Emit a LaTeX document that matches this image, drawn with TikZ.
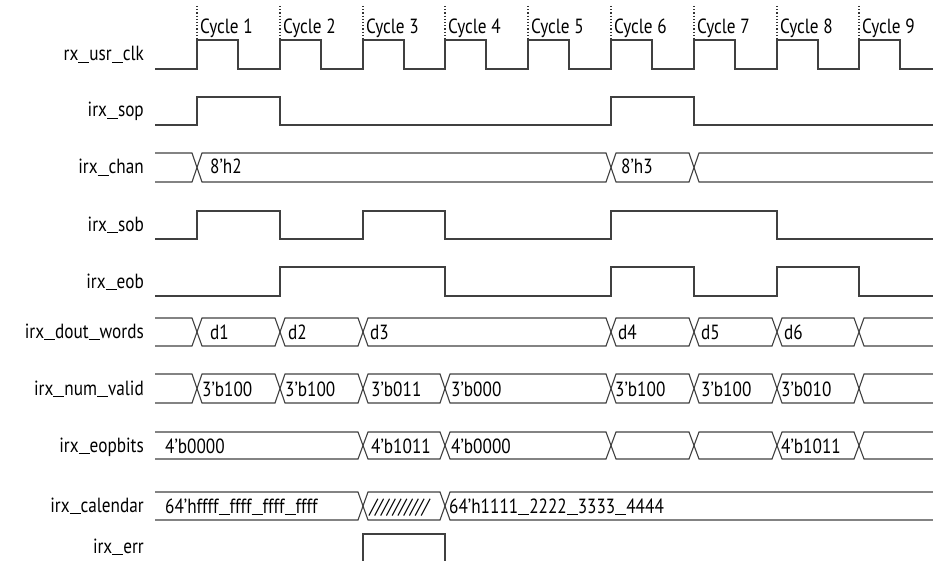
\documentclass[tikz,border=0pt]{standalone}
\usepackage{fontspec}
\setmainfont{PT Sans}[FakeStretch=0.84]
\usetikzlibrary{positioning}
\newcommand\usc{\rule[-2.2pt]{11pt}{0.9pt}}

\begin{document}
\begin{tikzpicture}[x=1pt, y=-1pt,
  sig/.style={draw=black!75, line width=1.1pt},
  tick/.style={draw=black!80, dotted, line width=1.2pt},
  signame/.style={anchor=base east, inner sep=0pt},
  busval/.style={anchor=base west, inner sep=0pt},
  every node/.style={font=\fontsize{20.5}{22}\selectfont}]

\useasboundingbox (0,0) rectangle (933,561);

\node (Cycle1) [busval] at (200,34) {Cycle 1};
\node (Cycle2) [busval] at (283,34) {Cycle 2};
\node (Cycle3) [busval] at (366,34) {Cycle 3};
\node (Cycle4) [busval] at (448,34) {Cycle 4};
\node (Cycle5) [busval] at (531,34) {Cycle 5};
\node (Cycle6) [busval] at (614,34) {Cycle 6};
\node (Cycle7) [busval] at (697,34) {Cycle 7};
\node (Cycle8) [busval] at (780,34) {Cycle 8};
\node (Cycle9) [busval] at (862,34) {Cycle 9};

\draw [tick] (197,6) -- (197,40);
\draw [tick] (280,6) -- (280,40);
\draw [tick] (363,6) -- (363,40);
\draw [tick] (445,6) -- (445,40);
\draw [tick] (528,6) -- (528,40);
\draw [tick] (611,6) -- (611,40);
\draw [tick] (694,6) -- (694,40);
\draw [tick] (777,6) -- (777,40);
\draw [tick] (859,6) -- (859,40);

\node (UsrClk) [signame] at (144,61) {rx\usc usr\usc clk};
\node (Sop) [signame] at (144,117) {irx\usc sop};
\node (Chan) [signame] at (144,174) {irx\usc chan};
\node (Sob) [signame] at (144,231) {irx\usc sob};
\node (Eob) [signame] at (144,288) {irx\usc eob};
\node (DoutWords) [signame] at (144,338) {irx\usc dout\usc words};
\node (NumValid) [signame] at (144,395) {irx\usc num\usc valid};
\node (EopBits) [signame] at (144,452) {irx\usc eopbits};
\node (Calendar) [signame] at (144,512) {irx\usc calendar};
\node (Err) [signame] at (144,553) {irx\usc err};

\draw [sig] (155,69) -| (197,40) -| (238,69) -| (280,40) -| (321,69) -| (363,40)
  -| (404,69) -| (445,40) -| (486,69) -| (528,40) -| (569,69) -| (611,40)
  -| (652,69) -| (694,40) -| (735,69) -| (777,40) -| (818,69) -| (859,40)
  -| (900,69) -- (933,69);

\draw [sig] (155,125) -| (197,97) -| (280,125) -| (611,97) -| (694,125) -- (933,125);

\draw [sig] (155,153) -- (192,153) -- (202,182) -- (606,182) -- (616,153) -- (689,153) -- (699,182) -- (933,182);
\draw [sig] (155,182) -- (192,182) -- (202,153) -- (606,153) -- (616,182) -- (689,182) -- (699,153) -- (933,153);
\node (ChanA) [busval] at (210,174) {8’h2};
\node (ChanB) [busval] at (621,174) {8’h3};

\draw [sig] (155,239) -| (197,211) -| (280,239) -| (363,211) -| (445,239) -| (611,211) -| (777,239) -- (933,239);

\draw [sig] (155,296) -| (280,267) -| (445,296) -| (611,267) -| (694,296) -| (777,267) -| (859,296) -- (933,296);

\draw [sig] (155,318) -- (192,318) -- (202,346) -- (275,346) -- (285,318) -- (358,318) -- (368,346) -- (606,346)
  -- (616,318) -- (689,318) -- (699,346) -- (772,346) -- (782,318) -- (854,318) -- (864,346) -- (933,346);
\draw [sig] (155,346) -- (192,346) -- (202,318) -- (275,318) -- (285,346) -- (358,346) -- (368,318) -- (606,318)
  -- (616,346) -- (689,346) -- (699,318) -- (772,318) -- (782,346) -- (854,346) -- (864,318) -- (933,318);
\node (WordA) [busval] at (210,339) {d1};
\node (WordB) [busval] at (288,339) {d2};
\node (WordC) [busval] at (370,339) {d3};
\node (WordD) [busval] at (618,339) {d4};
\node (WordE) [busval] at (701,339) {d5};
\node (WordF) [busval] at (784,339) {d6};

\draw [sig] (155,374) -- (192,374) -- (202,403) -- (275,403) -- (285,374) -- (358,374) -- (368,403) -- (440,403) -- (450,374)
  -- (606,374) -- (616,403) -- (689,403) -- (699,374) -- (772,374) -- (782,403) -- (854,403) -- (864,374) -- (933,374);
\draw [sig] (155,403) -- (192,403) -- (202,374) -- (275,374) -- (285,403) -- (358,403) -- (368,374) -- (440,374) -- (450,403)
  -- (606,403) -- (616,374) -- (689,374) -- (699,403) -- (772,403) -- (782,374) -- (854,374) -- (864,403) -- (933,403);
\node (ValidA) [busval] at (202,396) {3’b100};
\node (ValidB) [busval] at (285,396) {3’b100};
\node (ValidC) [busval] at (371,396) {3’b011};
\node (ValidD) [busval] at (451,396) {3’b000};
\node (ValidE) [busval] at (615,396) {3’b100};
\node (ValidF) [busval] at (701,396) {3’b100};
\node (ValidG) [busval] at (781,396) {3’b010};

\draw [sig] (155,432) -- (358,432) -- (368,459) -- (440,459) -- (450,432) -- (606,432) -- (616,459) -- (689,459)
  -- (699,432) -- (772,432) -- (782,459) -- (854,459) -- (864,432) -- (933,432);
\draw [sig] (155,459) -- (358,459) -- (368,432) -- (440,432) -- (450,459) -- (606,459) -- (616,432) -- (689,432)
  -- (699,459) -- (772,459) -- (782,432) -- (854,432) -- (864,459) -- (933,459);
\node (EopA) [busval] at (165,453) {4’b0000};
\node (EopB) [busval] at (371,453) {4’b1011};
\node (EopC) [busval] at (451,453) {4’b0000};
\node (EopD) [busval] at (781,453) {4’b1011};

\draw [sig] (155,492) -- (358,492) -- (368,520) -- (440,520) -- (450,492) -- (933,492);
\draw [sig] (155,520) -- (358,520) -- (368,492) -- (440,492) -- (450,520) -- (933,520);
\node (CalA) [busval] at (165,513) {64’hffff\usc ffff\usc ffff\usc ffff};
\node (CalB) [busval] at (370,513) {\itshape //////////};
\node (CalC) [busval] at (449,513) {64’h1111\usc 2222\usc 3333\usc 4444};

\draw [sig] (363,561) |- (445,534) -- (445,561);

\end{tikzpicture}
\end{document}
